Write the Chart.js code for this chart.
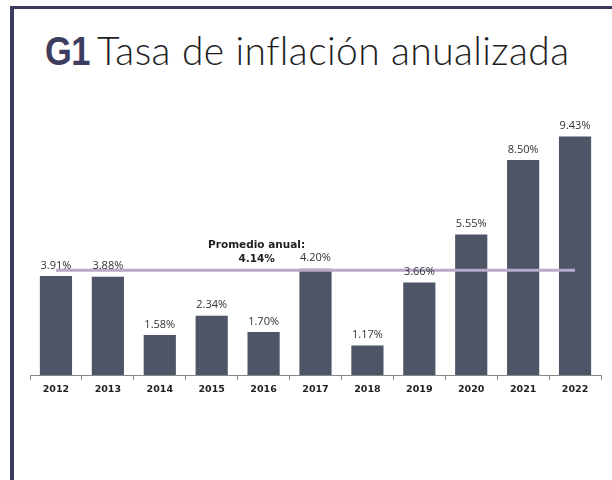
<!DOCTYPE html>
<html>
<head>
<meta charset="utf-8">
<script src="https://cdn.jsdelivr.net/npm/chart.js@4"></script>
<style>
  html, body { margin: 0; padding: 0; background: #fff; }
  #wrap { position: relative; width: 612px; height: 480px; overflow: hidden; }
  #frameTop { position: absolute; left: 10px; top: 6px; width: 602px; height: 3px; background: #3b3a5f; }
  #frameLeft { position: absolute; left: 10px; top: 6px; width: 4px; height: 474px; background: #3b3a5f; }
  .ttl { position: absolute; white-space: nowrap; line-height: 1; }
  #g1 { left: 45px; top: 31px; font-family: "Liberation Sans", sans-serif; font-weight: bold; font-size: 41px; letter-spacing: -0.5px; color: #3d3d60; transform: scaleX(0.84); transform-origin: left top; }
  #tt { left: 97px; top: 31px; font-family: "Lato", sans-serif; font-weight: 300; font-size: 39px; letter-spacing: 0.4px; color: #1e1e1e; }
  canvas { position: absolute; left: 0; top: 0; }
</style>
</head>
<body>
<div id="wrap">
  <div id="frameTop"></div>
  <div id="frameLeft"></div>
  <div class="ttl" id="g1">G1</div>
  <div class="ttl" id="tt">Tasa de inflación anualizada</div>
  <canvas id="chart" width="612" height="480"></canvas>
</div>
<script>
const years = ['2012', '2013', '2014', '2015', '2016', '2017', '2018', '2019', '2020', '2021', '2022']
const inflation = [3.91, 3.88, 1.58, 2.34, 1.70, 4.20, 1.17, 3.66, 5.55, 8.50, 9.43]
const promedio = 4.14
const promedioLabel = ['Promedio anual:', '4.14%']

// etiquetas sobre las barras + línea del promedio
const extras = {
  id: 'extras',
  afterDatasetsDraw(chart) {
    const ctx = chart.ctx
    const x = chart.scales.x
    const y = chart.scales.y
    const meta = chart.getDatasetMeta(0)

    // línea promedio
    const yAvg = y.getPixelForValue(promedio)
    ctx.save()
    ctx.strokeStyle = '#b9aacb'
    ctx.lineWidth = 3
    ctx.beginPath()
    ctx.moveTo(x.getPixelForValue(0), yAvg)
    ctx.lineTo(x.getPixelForValue(years.length - 1), yAvg)
    ctx.stroke()

    // valores
    ctx.fillStyle = '#333'
    ctx.font = '11px "Open Sans", sans-serif'
    ctx.textAlign = 'center'
    ctx.textBaseline = 'bottom'
    meta.data.forEach((bar, i) => {
      ctx.fillText(inflation[i].toFixed(2) + '%', bar.x, bar.y - 5)
    })

    // texto del promedio
    ctx.font = 'bold 10.5px "DejaVu Sans", sans-serif'
    ctx.fillStyle = '#222'
    const cx = x.getPixelForValue(4) - 7
    ctx.fillText(promedioLabel[0], cx, yAvg - 20)
    ctx.fillText(promedioLabel[1], cx, yAvg - 6)
    ctx.restore()
  }
}

new Chart(document.getElementById('chart'), {
  type: 'bar',
  data: {
    labels: years,
    datasets: [{
      data: inflation,
      backgroundColor: '#4d5566',
      barPercentage: 0.62,
      categoryPercentage: 1
    }]
  },
  options: {
    responsive: false,
    animation: false,
    layout: { padding: { left: 30, right: 11, top: 122, bottom: 75 } },
    plugins: { legend: { display: false }, tooltip: { enabled: false } },
    scales: {
      x: {
        grid: { display: true, drawOnChartArea: false, tickLength: 5, color: '#888' },
        border: { color: '#888', width: 1 },
        ticks: { color: '#1e1e1e', padding: 4, font: { family: 'DejaVu Sans', weight: 'bold', size: 9.5 } },
        afterFit(scale) { scale.height = 30 }
      },
      y: {
        display: false,
        min: 0,
        max: 10
      }
    }
  },
  plugins: [extras]
})
</script>
</body>
</html>
